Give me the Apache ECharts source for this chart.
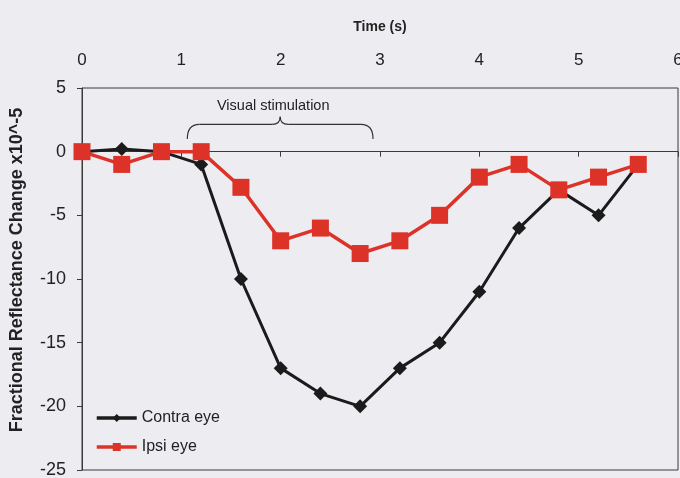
<!DOCTYPE html>
<html>
<head>
<meta charset="utf-8">
<script src="https://cdn.jsdelivr.net/npm/echarts@6/dist/echarts.min.js"></script>
<style>
  html, body { margin: 0; padding: 0; background: #ededf1; }
  #chart { width: 680px; height: 478px; }
</style>
</head>
<body>
<div id="chart"></div>
<script>
// Sample times (s) and fractional reflectance change (x10^-5)
const times = [0, 0.4, 0.8, 1.2, 1.6, 2.0, 2.4, 2.8, 3.2, 3.6, 4.0, 4.4, 4.8, 5.2, 5.6];
const contraEye = [0, 0.2, 0, -1, -10, -17, -19, -20, -17, -15, -11, -6, -3, -5, -1];
const ipsiEye = [0, -1, 0, 0, -2.8, -7, -6, -8, -7, -5, -2, -1, -3, -2, -1];
const seriesNames = ['Contra eye', 'Ipsi eye'];
// Stimulation window (s) marked with a brace
const stimWindow = [1.06, 2.93];
const stimLabel = 'Visual stimulation';

const FONT = 'Liberation Sans, Arial, sans-serif';
const TEXT = '#222';
const AXIS = '#3a3a3a';

const pairs = (ys) => times.map((t, i) => [t, ys[i]]);

const chart = echarts.init(document.getElementById('chart'));
chart.setOption({
  backgroundColor: '#ededf1',
  animation: false,
  textStyle: { fontFamily: FONT },
  grid: {
    left: 82, right: 2, top: 88, bottom: 8,
    outerBoundsMode: 'none', containLabel: false,
    show: true, borderColor: AXIS, borderWidth: 1, backgroundColor: 'transparent'
  },
  xAxis: [
    {
      // labels along the top
      type: 'value', position: 'top', min: 0, max: 6, interval: 1,
      name: 'Time (s)', nameLocation: 'middle', nameGap: 54, nameMoveOverlap: false,
      nameTextStyle: { fontFamily: FONT, fontWeight: 'bold', fontSize: 14, color: TEXT },
      axisLine: { show: false, onZero: false }, axisTick: { show: false }, splitLine: { show: false },
      axisLabel: { fontFamily: FONT, fontSize: 17, color: TEXT, margin: 19 }
    },
    {
      // axis line crossing at zero, ticks hanging below
      type: 'value', position: 'bottom', min: 0, max: 6, interval: 1,
      axisLine: { show: true, onZero: true, onZeroAxisIndex: 0, lineStyle: { color: AXIS, width: 1 } },
      axisTick: { show: true, length: 5, lineStyle: { color: AXIS } },
      axisLabel: { show: false }, splitLine: { show: false }
    }
  ],
  yAxis: {
    type: 'value', min: -25, max: 5, interval: 5,
    name: 'Fractional Reflectance Change x10^-5', nameLocation: 'middle', nameGap: 56,
    nameMoveOverlap: false,
    nameTextStyle: { fontFamily: FONT, fontWeight: 'bold', fontSize: 18, color: TEXT, padding: [0, 0, 0, 18] },
    axisLine: { show: true, onZero: false, lineStyle: { color: AXIS, width: 1 } },
    axisTick: { show: true, length: 5, lineStyle: { color: AXIS } },
    axisLabel: { fontFamily: FONT, fontSize: 18, color: TEXT, margin: 16 },
    splitLine: { show: false }
  },
  legend: {
    orient: 'vertical', left: 90, top: 405, itemGap: 13,
    itemWidth: 40, itemHeight: 10,
    lineStyle: { width: 3.5 },
    textStyle: { fontFamily: FONT, fontSize: 16, color: TEXT },
    data: seriesNames
  },
  series: [
    {
      name: seriesNames[0], type: 'line', xAxisIndex: 0, data: pairs(contraEye),
      symbol: 'diamond', symbolSize: 14,
      lineStyle: { color: '#1b1b1b', width: 3 },
      itemStyle: { color: '#1b1b1b' }, z: 2
    },
    {
      name: seriesNames[1], type: 'line', xAxisIndex: 0, data: pairs(ipsiEye),
      symbol: 'rect', symbolSize: 17,
      lineStyle: { color: '#dc3228', width: 3.5 },
      itemStyle: { color: '#dc3228' }, z: 3
    }
  ]
});

// Brace and label above the stimulation window
function drawBrace() {
  const px = (x, y) => chart.convertToPixel({ xAxisIndex: 0, yAxisIndex: 0 }, [x, y]);
  const [x1, yEnd] = px(stimWindow[0], 1.0);
  const [x2] = px(stimWindow[1], 1.0);
  const yMid = px(0, 2.15)[1];
  const yTip = px(0, 2.75)[1];
  const xc = (x1 + x2) / 2;
  const r = 12, k = 8;
  const stroke = { stroke: '#333', lineWidth: 1.2, fill: null };
  const curve = (ax, ay, bx, by, cx, cy) => ({
    type: 'bezierCurve', shape: { x1: ax, y1: ay, x2: bx, y2: by, cpx1: cx, cpy1: cy }, style: stroke
  });
  const seg = (ax, ay, bx, by) => ({
    type: 'line', shape: { x1: ax, y1: ay, x2: bx, y2: by }, style: stroke
  });
  const labelPos = px((stimWindow[0] + stimWindow[1]) / 2 - 0.07, 3.6);
  chart.setOption({
    graphic: [
      {
        type: 'group', z: 10,
        children: [
          curve(x1, yEnd, x1 + r, yMid, x1, yMid),
          seg(x1 + r, yMid, xc - k, yMid),
          curve(xc - k, yMid, xc, yTip, xc, yMid),
          curve(xc, yTip, xc + k, yMid, xc, yMid),
          seg(xc + k, yMid, x2 - r, yMid),
          curve(x2 - r, yMid, x2, yEnd, x2, yMid)
        ]
      },
      {
        type: 'text', x: labelPos[0], y: labelPos[1], z: 10,
        style: {
          text: stimLabel, fontFamily: FONT, fontSize: 14.5, fill: TEXT,
          align: 'center', verticalAlign: 'middle'
        }
      }
    ]
  });
}
drawBrace();
</script>
</body>
</html>
